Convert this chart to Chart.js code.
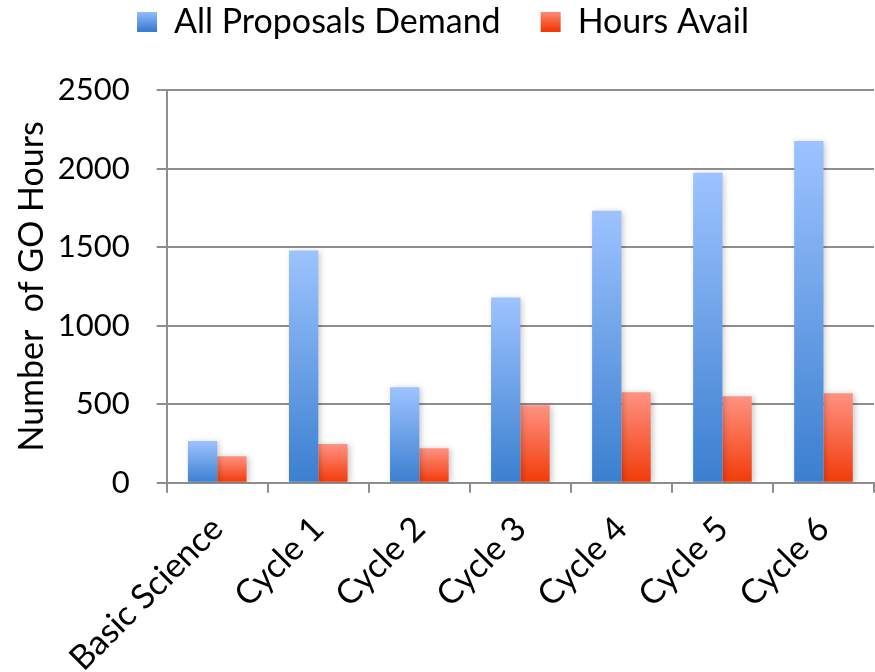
<!DOCTYPE html>
<html>
<head>
<meta charset="utf-8">
<script src="https://cdn.jsdelivr.net/npm/chart.js@4.4.1/dist/chart.umd.min.js"></script>
<style>
  html, body { margin: 0; padding: 0; background: #fff; }
  #wrap { width: 875px; height: 672px; }
</style>
</head>
<body>
<div id="wrap"><canvas id="goChart" width="875" height="672"></canvas></div>
<script>
// Categories and values
const categories = ['Basic Science', 'Cycle 1', 'Cycle 2', 'Cycle 3', 'Cycle 4', 'Cycle 5', 'Cycle 6'];
const demandHours = [265, 1478, 608, 1179, 1732, 1973, 2176];
const availHours = [169, 246, 220, 493, 576, 550, 569];
const seriesNames = ['All Proposals Demand', 'Hours Avail'];
const yTicks = [0, 500, 1000, 1500, 2000, 2500];

const FONT = 'Lato';
const blueStops = ['#9dc3ff', '#3a7fcf'];
const redStops = ['#ff9282', '#f23a08'];
const LEGEND_GAP = 41;   // extra room under the legend

// each bar gets its own top-to-bottom gradient
function barGradient(stops) {
    return (context) => {
        const chart = context.chart;
        if (context.type !== 'data' || !chart.chartArea) return stops[1];
        const y = chart.scales.y;
        const top = y.getPixelForValue(context.raw);
        const bottom = y.getPixelForValue(0);
        const g = chart.ctx.createLinearGradient(0, top, 0, bottom);
        g.addColorStop(0, stops[0]);
        g.addColorStop(1, stops[1]);
        return g;
    };
}

const barShadow = {
    id: 'barShadow',
    beforeDatasetsDraw(chart) {
        const ctx = chart.ctx;
        ctx.save();
        ctx.shadowColor = 'rgba(0, 0, 0, 0.22)';
        ctx.shadowBlur = 6;
        ctx.shadowOffsetX = 2;
        ctx.shadowOffsetY = 1;
    },
    afterDatasetsDraw(chart) {
        chart.ctx.restore();
    }
};

// make the legend box taller so the plot starts lower
const legendSpacer = {
    id: 'legendSpacer',
    afterInit(chart) {
        const legend = chart.legend;
        if (!legend) return;
        const fit = legend.fit;
        legend.fit = function () {
            fit.call(this);
            this.height += LEGEND_GAP;
        };
    }
};

const canvas = document.getElementById('goChart');
const c2d = canvas.getContext('2d');

function legendFill(stops) {
    const g = c2d.createLinearGradient(0, 10, 0, 30);
    g.addColorStop(0, stops[0]);
    g.addColorStop(1, stops[1]);
    return g;
}

const chart = new Chart(canvas, {
    type: 'bar',
    data: {
        labels: categories,
        datasets: [
            {
                label: seriesNames[0],
                data: demandHours,
                backgroundColor: barGradient(blueStops),
                borderWidth: 0
            },
            {
                label: seriesNames[1],
                data: availHours,
                backgroundColor: barGradient(redStops),
                borderWidth: 0
            }
        ]
    },
    options: {
        responsive: false,
        animation: false,
        devicePixelRatio: 1,
        categoryPercentage: 0.58,
        barPercentage: 1.0,
        layout: {
            padding: { left: 12, right: 1, top: -35, bottom: -23 }
        },
        plugins: {
            tooltip: { enabled: false },
            legend: {
                position: 'top',
                labels: {
                    color: '#000',
                    font: { family: FONT, size: 34 },
                    boxWidth: 20,
                    boxHeight: 20,
                    padding: 40,
                    generateLabels: () => [
                        { text: seriesNames[0], fillStyle: legendFill(blueStops), lineWidth: 0, strokeStyle: 'transparent', datasetIndex: 0 },
                        { text: seriesNames[1], fillStyle: legendFill(redStops), lineWidth: 0, strokeStyle: 'transparent', datasetIndex: 1 }
                    ]
                }
            }
        },
        scales: {
            x: {
                // the long first label may hang out to the left, under the y axis
                afterFit: (scale) => { scale.paddingLeft = 0; },
                grid: {
                    offset: true,
                    drawOnChartArea: false,
                    color: '#8e8e8e',
                    lineWidth: 2,
                    tickLength: 10
                },
                border: { color: '#8e8e8e', width: 2 },
                ticks: {
                    color: '#000',
                    font: { family: FONT, size: 34 },
                    minRotation: 45,
                    maxRotation: 45,
                    padding: 16
                }
            },
            y: {
                min: 0,
                max: 2500,
                afterBuildTicks: (axis) => {
                    axis.ticks = yTicks.map(v => ({ value: v }));
                },
                grid: {
                    color: '#8e8e8e',
                    lineWidth: 2,
                    tickLength: 10
                },
                border: { color: '#8e8e8e', width: 2 },
                ticks: {
                    color: '#000',
                    font: { family: FONT, size: 31 },
                    padding: 27,
                    callback: (value) => String(value)
                },
                title: {
                    display: true,
                    text: 'Number  of GO Hours',
                    color: '#000',
                    font: { family: FONT, size: 34 },
                    // tick padding is counted twice in the axis width, so pull it back here
                    padding: { top: 0, bottom: -22 }
                }
            }
        }
    },
    plugins: [barShadow, legendSpacer]
});
</script>
</body>
</html>
